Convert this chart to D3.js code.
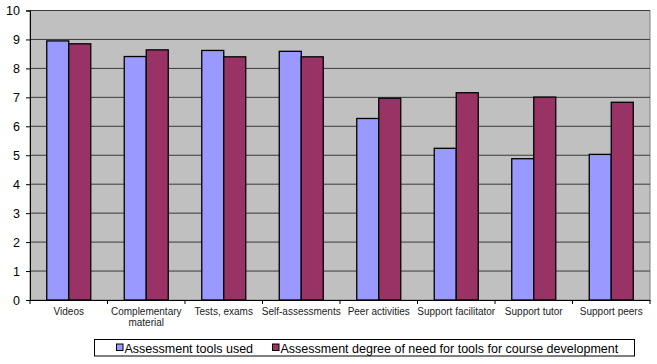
<!DOCTYPE html>
<html>

<head>
  <script src="https://d3js.org/d3.v7.min.js"></script>
  <style>
    body {
      margin: 0;
      background: #ffffff;
    }

    text {
      font-family: Arial, "Liberation Sans", sans-serif;
    }
  </style>
</head>

<body>
  <svg id="chart"></svg>
  <script>
    const categories = ["Videos", "Complementary material", "Tests, exams", "Self-assessments",
      "Peer activities", "Support facilitator", "Support tutor", "Support peers"]
    const toolsUsed = [8.95, 8.41, 8.62, 8.59, 6.27, 5.24, 4.88, 5.03]
    const needDegree = [8.85, 8.64, 8.40, 8.40, 6.97, 7.16, 7.01, 6.83]
    const seriesNames = ["Assessment tools used", "Assessment degree of need for tools for course development"]
    const yTicks = [0, 1, 2, 3, 4, 5, 6, 7, 8, 9, 10]

    const svgwidth = 657, svgheight = 364
    const margin = { top: 10.5, right: 7, bottom: 64, left: 30 }
    const width = svgwidth - margin.left - margin.right
    const height = svgheight - margin.top - margin.bottom

    const svg = d3.select("#chart")
      .attr("width", svgwidth)
      .attr("height", svgheight)

    const g = svg.append("g")
      .attr("transform", `translate(${margin.left},${margin.top})`)

    const x = d3.scaleBand()
      .domain(categories)
      .range([0, width])

    const xInner = d3.scaleBand()
      .domain([0, 1])
      .range([0, 44])

    const y = d3.scaleLinear()
      .domain([0, 10])
      .range([height, 0])

    // plot area
    g.append("rect")
      .attr("width", width)
      .attr("height", height)
      .attr("fill", "#c0c0c0")
      .attr("stroke", "#808080")
      .attr("stroke-width", 1)

    // gridlines
    g.selectAll(".grid")
      .data(yTicks.filter(d => d > 0))
      .enter()
      .append("line")
      .attr("x1", 0)
      .attr("x2", width)
      .attr("y1", d => y(d))
      .attr("y2", d => y(d))
      .attr("stroke", "#3a3a3a")
      .attr("stroke-width", 1)

    // bars
    const colors = ["#9999ff", "#993366"]
    const series = [toolsUsed, needDegree]
    series.forEach((vals, si) => {
      g.selectAll(".bar" + si)
        .data(categories)
        .enter()
        .append("rect")
        .attr("x", (c) => x(c) + (x.bandwidth() - 44) / 2 + xInner(si))
        .attr("y", (c, i) => y(vals[i]))
        .attr("width", xInner.bandwidth())
        .attr("height", (c, i) => height - y(vals[i]))
        .attr("fill", colors[si])
        .attr("stroke", "#000000")
        .attr("stroke-width", 1.3)
    })

    // y axis
    const yAxis = g.append("g")
      .call(d3.axisLeft(y).tickValues(yTicks).tickSize(4).tickPadding(6))
    yAxis.select(".domain").attr("stroke", "#000000")
    yAxis.selectAll("text")
      .attr("font-size", 12.5)
      .attr("fill", "#000000")
      .attr("font-family", "Arial, 'Liberation Sans', sans-serif")

    // x axis
    const xAxis = g.append("g")
      .attr("transform", `translate(0,${height})`)
      .call(d3.axisBottom(x).tickSize(0).tickFormat(""))
    xAxis.select(".domain").attr("stroke", "#000000")

    g.selectAll(".xtick")
      .data(d3.range(categories.length + 1))
      .enter()
      .append("line")
      .attr("x1", i => i * x.step())
      .attr("x2", i => i * x.step())
      .attr("y1", height)
      .attr("y2", height + 4)
      .attr("stroke", "#000000")

    const labels = g.selectAll(".xlabel")
      .data(categories)
      .enter()
      .append("text")
      .attr("x", c => x(c) + x.bandwidth() / 2)
      .attr("y", height + 15)
      .attr("text-anchor", "middle")
      .attr("font-size", 10)
      .attr("fill", "#222222")

    labels.each(function (c) {
      const t = d3.select(this)
      const lines = c === "Complementary material" ? ["Complementary", "material"] : [c]
      lines.forEach((l, i) => {
        t.append("tspan")
          .attr("x", x(c) + x.bandwidth() / 2)
          .attr("dy", i === 0 ? 0 : 11)
          .text(l)
      })
    })

    // legend
    const legend = svg.append("g")
      .attr("transform", "translate(94.5,339.5)")
    legend.append("rect")
      .attr("width", 540)
      .attr("height", 16.5)
      .attr("fill", "#ffffff")
      .attr("stroke", "#000000")

    const legendX = [22, 178]
    seriesNames.forEach((name, i) => {
      legend.append("rect")
        .attr("x", legendX[i])
        .attr("y", 4.5)
        .attr("width", 6.5)
        .attr("height", 6.5)
        .attr("fill", colors[i])
        .attr("stroke", "#000000")
      legend.append("text")
        .attr("x", legendX[i] + 8)
        .attr("y", 13)
        .attr("font-size", 12.5)
        .attr("fill", "#000000")
        .text(name)
    })
  </script>
</body>

</html>
